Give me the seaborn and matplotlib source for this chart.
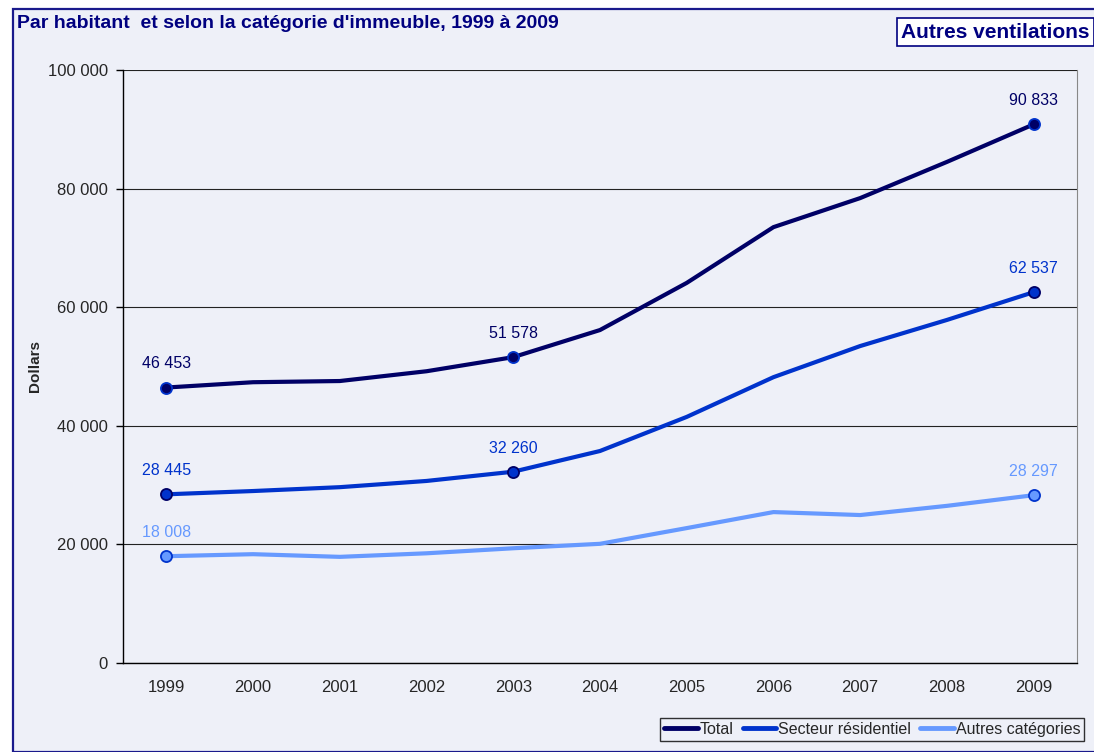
import pandas as pd
import seaborn as sns
import matplotlib.pyplot as plt
from matplotlib.patches import Rectangle
from matplotlib.ticker import FuncFormatter, MultipleLocator

# Données (dollars par habitant)
annees = ["1999", "2000", "2001", "2002", "2003", "2004",
          "2005", "2006", "2007", "2008", "2009"]
total = [46453, 47350, 47550, 49200, 51578, 56150, 64100, 73500, 78400, 84500, 90833]
residentiel = [28445, 29000, 29650, 30700, 32260, 35750, 41500, 48200, 53450, 57850, 62537]
autres = [18008, 18350, 17900, 18500, 19350, 20100, 22750, 25450, 24950, 26500, 28297]

series = ["Total", "Secteur résidentiel", "Autres catégories"]
couleurs = ["#000066", "#0033CC", "#6699FF"]
# années avec étiquettes de valeur pour chaque série
etiquettes = {
    "Total": ["1999", "2003", "2009"],
    "Secteur résidentiel": ["1999", "2003", "2009"],
    "Autres catégories": ["1999", "2009"],
}
marqueur_bord = {"Total": "#0033CC", "Secteur résidentiel": "#000066",
                 "Autres catégories": "#0033CC"}
marqueur_fond = {"Total": "#000066", "Secteur résidentiel": "#0033CC",
                 "Autres catégories": "#6699FF"}

df = pd.DataFrame({"Année": annees, "Total": total,
                   "Secteur résidentiel": residentiel,
                   "Autres catégories": autres})
df_long = df.melt(id_vars="Année", var_name="Série", value_name="Dollars")

fond = "#EEF0F8"
sns.set_style("white")
plt.rcParams["font.family"] = ["Liberation Sans", "DejaVu Sans"]

fig = plt.figure(figsize=(10.94, 7.52), dpi=100)
fig.patch.set_facecolor("white")
# cadre du panneau
cadre = Rectangle((13 / 1094, 0), 1.2, 1 - 9 / 752, transform=fig.transFigure,
                  facecolor=fond, edgecolor="#1A1A8C", linewidth=1.6, zorder=-10)
fig.add_artist(cadre)

ax = fig.add_axes([123 / 1094, 89 / 752, 954 / 1094, 593 / 752])
ax.set_facecolor(fond)

sns.lineplot(data=df_long, x="Année", y="Dollars", hue="Série", hue_order=series,
             palette=couleurs, linewidth=3, sort=False, legend=False, ax=ax)

# marqueurs et étiquettes
for nom, couleur in zip(series, couleurs):
    valeurs = df.set_index("Année")[nom]
    for an in etiquettes[nom]:
        i = annees.index(an)
        v = valeurs[an]
        ax.plot(i, v, "o", ms=8, mfc=marqueur_fond[nom], mec=marqueur_bord[nom],
                mew=1.3, zorder=5)
        ax.annotate(f"{v:,}".replace(",", " "), (i, v), xytext=(0, 17),
                    textcoords="offset points", ha="center", va="center",
                    fontsize=11.5, color=couleur)

ax.set_xlim(-0.5, len(annees) - 0.5)
ax.set_ylim(0, 100000)
ax.yaxis.set_major_locator(MultipleLocator(20000))
ax.yaxis.set_major_formatter(FuncFormatter(lambda v, p: f"{int(v):,}".replace(",", " ")))
ax.grid(axis="y", color="#222222", linewidth=0.8)
ax.set_axisbelow(True)

ax.set_xticks(range(len(annees)))
ax.set_xticklabels(annees)
ax.set_xticks([i - 0.5 for i in range(len(annees) + 1)], minor=True)
ax.tick_params(axis="x", which="major", length=0, labelsize=12, pad=12)
ax.tick_params(axis="x", which="minor", length=5, width=1, color="black", direction="out")
ax.tick_params(axis="y", length=5, width=1, color="black", labelsize=12, left=True, pad=6)

for c in ["left", "bottom"]:
    ax.spines[c].set_color("black")
    ax.spines[c].set_linewidth(1)
ax.spines["top"].set_visible(False)
ax.spines["right"].set_color("#888888")

ax.set_xlabel("")
ax.set_ylabel("Dollars", fontsize=11, fontweight="bold", labelpad=4)

# titres
fig.text(17 / 1094, 1 - 23 / 752, "Par habitant  et selon la catégorie d'immeuble, 1999 à 2009",
         fontsize=14, fontweight="bold", color="#000080", va="center", ha="left")
fig.text(901 / 1094, 1 - 32 / 752, "Autres ventilations", fontsize=15, fontweight="bold",
         color="#000080", va="center", ha="left",
         bbox=dict(boxstyle="square,pad=0.2", fc="white", ec="#000080", lw=1.2))

# légende
poignees = [plt.Line2D([], [], color=c, lw=3.5) for c in couleurs]
leg = fig.legend(poignees, series, loc="lower right", bbox_to_anchor=(0.991, 0.015),
                 ncol=3, fontsize=11.5, frameon=True, fancybox=False, handlelength=2.1,
                 handletextpad=0.1, columnspacing=0.6, borderpad=0.25, borderaxespad=0)
leg.get_frame().set_edgecolor("black")
leg.get_frame().set_facecolor(fond)
leg.get_frame().set_linewidth(1)

fig.savefig("out.png", dpi=100, facecolor=fig.get_facecolor())
